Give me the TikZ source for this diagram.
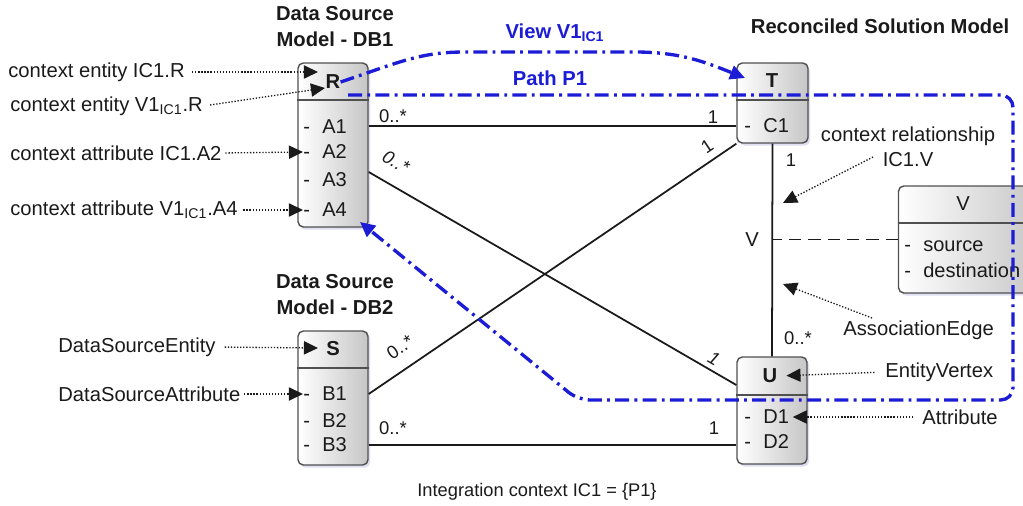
\documentclass[tikz,border=0pt]{standalone}
\usepackage{fontspec}
\setmainfont{Liberation Sans}
\usepackage{tikz}
\usetikzlibrary{calc,arrows.meta,shadows}
\definecolor{ink}{HTML}{1A1A1A}
\definecolor{frame}{HTML}{505050}
\definecolor{boxend}{HTML}{C6C6C6}
\definecolor{pathblue}{HTML}{1C1CD6}
\newcommand{\rowtxt}[1]{-\hspace{7pt}#1}
\tikzset{
  ent/.style={draw=frame, line width=0.8pt, rounded corners=3pt, left color=white, right color=boxend,
    drop shadow={shadow xshift=1.2pt, shadow yshift=-1.5pt, opacity=0.18, fill=blue!40!gray}},
  sep/.style={draw=frame, line width=0.8pt},
  head/.style={text=ink, font=\bfseries\fontsize{11.5}{13}\selectfont, inner sep=0pt},
  row/.style={text=ink, font=\fontsize{11.4}{13}\selectfont, anchor=west, inner sep=0pt},
  txt/.style={text=ink, font=\fontsize{11.5}{14}\selectfont, inner sep=0pt},
  mult/.style={text=ink, font=\fontsize{10.5}{12}\selectfont, inner sep=0pt},
  title/.style={text=ink, font=\bfseries\fontsize{11.5}{14.8}\selectfont, align=center, inner sep=0pt},
  rel/.style={draw=ink, line width=1pt},
  hint/.style={draw=ink, densely dotted, line width=0.75pt, -{Triangle[length=8pt,width=7.5pt]}},
  trail/.style={draw=pathblue, line width=1.9pt, dash pattern=on 8pt off 3pt on 1.6pt off 3pt,
    -{Triangle[length=8.5pt,width=8pt]}},
  trailtext/.style={text=pathblue, font=\bfseries\fontsize{11.5}{13}\selectfont, inner sep=0pt},
}

\begin{document}
\begin{tikzpicture}[x=0.02cm, y=-0.02cm]
  \clip (0,0) rectangle (1023,506);

  % boxes
  \node[ent, minimum width=1.4cm, minimum height=3.28cm] (R) at (333,145) {};
  \draw[sep] (R.west |- 0,100) -- (R.east |- 0,100);
  \node[head] (hR) at (333,82) {R};
  \foreach \n/\y in {A1/127, A2/152, A3/180, A4/210}
    \node[row] (r\n) at (303,\y) {\rowtxt{\n}};

  \node[ent, minimum width=1.42cm, minimum height=1.6cm] (T) at (772.5,103) {};
  \draw[sep] (T.west |- 0,100) -- (T.east |- 0,100);
  \node[head] (hT) at (772,81) {T};
  \node[row] (rC1) at (744,126) {\rowtxt{C1}};

  \node[ent, minimum width=2.82cm, minimum height=2.14cm] (V) at (969,239.5) {};
  \draw[sep] (V.west |- 0,223) -- (V.east |- 0,223);
  \node[head, font=\fontsize{11.5}{13}\selectfont] (hV) at (963,204) {V};
  \node[row] (rsrc) at (904,246) {\rowtxt{source}};
  \node[row] (rdst) at (904,270) {\rowtxt{destination}};

  \node[ent, minimum width=1.4cm, minimum height=2.68cm] (S) at (333,398) {};
  \draw[sep] (S.west |- 0,368) -- (S.east |- 0,368);
  \node[head] (hS) at (333,349) {S};
  \foreach \n/\y in {B1/394, B2/421, B3/445}
    \node[row] (r\n) at (303,\y) {\rowtxt{\n}};

  \node[ent, minimum width=1.4cm, minimum height=2.14cm] (U) at (772,410.5) {};
  \draw[sep] (U.west |- 0,395) -- (U.east |- 0,395);
  \node[head] (hU) at (770,376) {U};
  \foreach \n/\y in {D1/417, D2/442}
    \node[row] (r\n) at (744,\y) {\rowtxt{\n}};

  % relationships
  \draw[rel] (R.east |- rC1) -- (T.west |- rC1);
  \draw[rel] ($(R.east |- rA3)+(0,-8)$) -- ($(U.west |- hU)+(0,9)$);
  \draw[rel] (S.east |- rB1) -- (T.south west);
  \draw[rel] (S.east |- rB3) -- (U.west |- rB3);
  \draw[rel] (T.south) -- (U.north);
  \node[txt] (lV) at (752,240) {V};
  \draw[rel, dash pattern=on 7pt off 4pt] (V.west) -- (V.west -| T.south);

  \node[mult] at (393,116) {0..*};
  \node[mult] at (713,117) {1};
  \node[mult, rotate=-30] at (396,162) {\itshape 0..*};
  \node[mult, rotate=-30] at (714,359) {\itshape 1};
  \node[mult, rotate=34] at (400,347) {0..*};
  \node[mult, rotate=34] at (707,146) {1};
  \node[mult] at (393,428) {0..*};
  \node[mult] at (714,428) {1};
  \node[mult] at (791,160) {1};
  \node[mult] at (798,338) {0..*};

  % titles
  \node[title] (tDB1) at (335,27) {Data Source\\Model - DB1};
  \node[title] (tSol) at (880,26) {Reconciled Solution Model};
  \node[title] (tDB2) at (335,295) {Data Source\\Model - DB2};
  \node[txt, font=\fontsize{10.4}{13}\selectfont] (ctx) at (537,492) {Integration context IC1 = \{P1\}};

  % annotations
  \coordinate (tipR1) at (318,72);
  \coordinate (tipR2) at (325,88);
  \coordinate (tipS) at (318,348);
  \node[txt, anchor=west] (nR1) at (8,72) {context entity IC1.R};
  \node[txt, anchor=west] (nR2) at (10,106) {context entity V1\textsubscript{IC1}.R};
  \node[txt, anchor=west] (nA2) at (10,153) {context attribute IC1.A2};
  \node[txt, anchor=west] (nA4) at (10,210) {context attribute V1\textsubscript{IC1}.A4};
  \node[txt, anchor=west] (nSE) at (58,347) {DataSourceEntity};
  \node[txt, anchor=west] (nSA) at (58,394) {DataSourceAttribute};
  \draw[hint, shorten <=4pt] (nR1.east) -- (tipR1);
  \draw[hint, shorten <=4pt] (nR2.east) -- (tipR2);
  \draw[hint, shorten <=2pt] (nA2.east) -- (rA2.west);
  \draw[hint, shorten <=3pt] (nA4.east) -- (rA4.west);
  \draw[hint, shorten <=5pt] (nSE.east) -- (tipS);
  \draw[hint, shorten <=2pt] (nSA.east) -- (rB1.west);

  \coordinate (crTail) at (873,157);
  \coordinate (crTip) at (783,203);
  \coordinate (aeTail) at (872,318);
  \coordinate (aeTip) at (783,284);
  \node[txt, align=center] (nCR) at (908,147) {context relationship\\IC1.V};
  \node[txt, anchor=west] (nAE) at (843,330) {AssociationEdge};
  \node[txt, anchor=west] (nEV) at (885,372) {EntityVertex};
  \node[txt, anchor=west] (nAt) at (922,417) {Attribute};
  \draw[hint] (crTail) -- (crTip);
  \draw[hint] (aeTail) -- (aeTip);
  \draw[hint, shorten <=6pt, shorten >=5pt] (nEV.west) -- (hU.east);
  \draw[hint, shorten <=5pt, shorten >=2pt] (nAt.west) -- (rD1.east);

  % view and path
  \coordinate (vEnd) at (745,78);
  \coordinate (pStart) at (348,95);
  \coordinate (pEnd) at (360,222);
  \draw[trail] (hR.east) .. controls (400,62) and (420,52) .. (465,52) -- (635,52)
    .. controls (680,52) and (705,62) .. (vEnd);
  \draw[trail, rounded corners=7pt] (pStart) -- (1013,95) -- (1013,400) -- (578,400) -- (pEnd);
  \node[trailtext] (lView) at (555,33) {View V1\textsubscript{IC1}};
  \node[trailtext] (lPath) at (550,78) {Path P1};
\end{tikzpicture}
\end{document}
